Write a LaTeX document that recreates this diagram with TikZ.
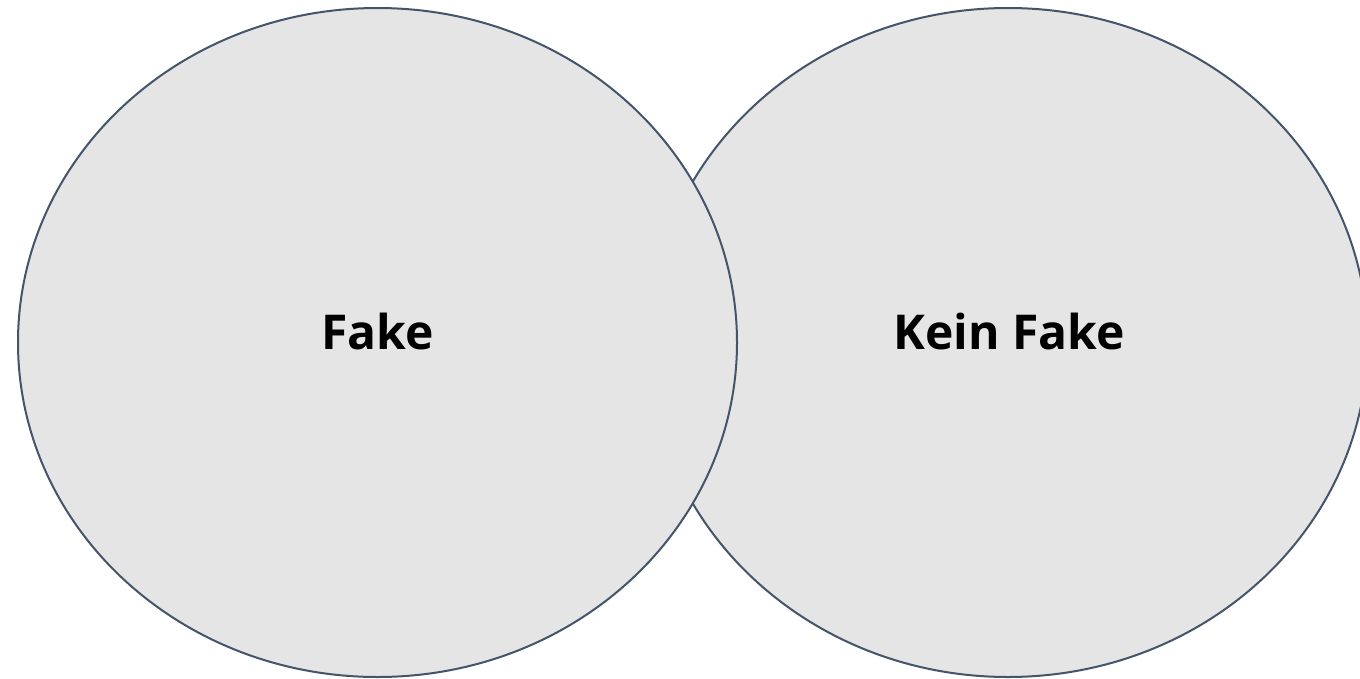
\documentclass[tikz,border=0pt]{standalone}
\usepackage{fontspec}
\setmainfont{Open Sans}
\definecolor{venfill}{HTML}{E5E5E5}
\definecolor{venline}{HTML}{44546A}
\begin{document}
\begin{tikzpicture}[x=1pt,y=-1pt,
  circ/.style={fill=venfill,draw=venline,line width=2pt},
  lbl/.style={font=\fontsize{48}{52}\selectfont\bfseries,text=black,inner sep=0pt}]
\useasboundingbox (0,0) rectangle (1360,678);
\fill[white] (0,0) rectangle (1360,678);
\begin{scope}
\clip (0,0) rectangle (1360,678);
\draw[circ] (1008,342.5) ellipse [x radius=359.5, y radius=334.5];
\draw[circ] (377.5,342.5) ellipse [x radius=359.5, y radius=334.5];
\end{scope}
\node[lbl] (fake) at (377.5,331) {Fake};
\node[lbl] (kein) at (1009,331) {Kein Fake};
\end{tikzpicture}
\end{document}
